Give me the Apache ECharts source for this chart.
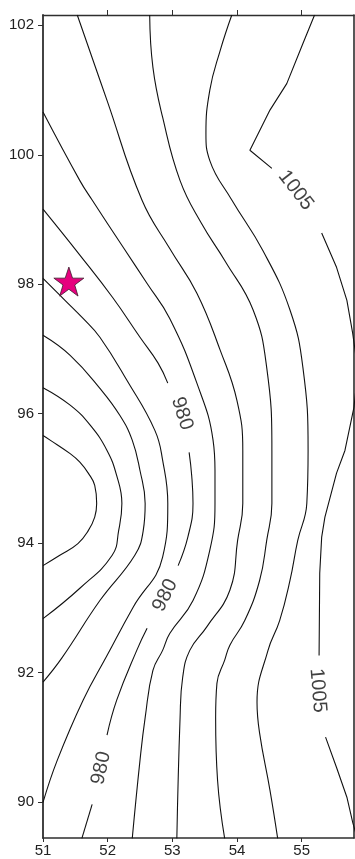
<!DOCTYPE html>
<html>
<head>
<meta charset="utf-8">
<script src="https://cdn.jsdelivr.net/npm/echarts@6/dist/echarts.min.js"></script>
<style>
  html, body { margin: 0; padding: 0; background: #fff; }
  #chart { width: 355px; height: 859px; }
</style>
</head>
<body>
<div id="chart"></div>
<script>
// Map frame extent (longitude on x, latitude on y)
const xRange = [51, 55.81];
const yRange = [89.44, 102.16];
const xTicks = [51, 52, 53, 54, 55];
const xTopTicks = [52, 53, 54, 55];
const yTicks = [90, 92, 94, 96, 98, 100, 102];

// Contour paths as [lon, lat]; a contour is a list of segments, gaps are where the level labels sit
const c960 = [[[51.00,95.66],[51.11,95.59],[51.42,95.38],[51.57,95.25],[51.70,95.08],[51.80,94.89],[51.83,94.61],[51.80,94.40],[51.70,94.19],[51.54,93.99],[51.26,93.81],[51.00,93.65]]];
const c965 = [[[51.00,96.40],[51.42,96.13],[51.73,95.82],[51.99,95.43],[52.14,95.04],[52.22,94.61],[52.17,94.19],[52.07,93.81],[51.57,93.30],[51.00,92.83]]];
const c970 = [[[51.00,97.21],[51.42,96.90],[51.88,96.39],[52.19,95.97],[52.38,95.59],[52.50,95.12],[52.58,94.61],[52.55,94.19],[52.42,93.81],[51.88,93.11],[51.29,92.22],[51.00,91.85]]];
const c975 = [[[51.00,98.09],[51.34,97.75],[51.62,97.47],[51.88,97.18],[52.30,96.51],[52.73,95.74],[52.85,95.28],[52.93,94.61],[52.85,93.78],[52.39,93.00],[51.99,92.26],[51.62,91.57],[51.22,90.64],[51.00,89.99]]];
const c980 = [
  [[51.00,99.16],[51.57,98.45],[52.08,97.79],[52.50,97.18],[52.78,96.78],[52.93,96.47]],
  [[53.26,95.40],[53.30,95.04],[53.32,94.61],[53.24,94.09],[53.09,93.65]],
  [[52.61,92.68],[52.45,92.34],[52.14,91.57],[51.99,91.03]],
  [[51.76,89.96],[51.60,89.43]]
];
const c985 = [[[51.00,100.66],[51.57,99.60],[51.76,99.30],[52.24,98.57],[52.61,98.01],[52.96,97.47],[53.38,96.47],[53.63,95.59],[53.66,95.12],[53.66,94.61],[53.58,93.89],[53.32,93.11],[52.96,92.60],[52.85,92.34],[52.70,92.03],[52.58,91.30],[52.50,90.64],[52.38,89.43]]];
const c990 = [[[51.53,102.16],[51.99,100.84],[52.53,99.30],[52.96,98.55],[53.38,97.86],[53.74,96.98],[54.00,96.20],[54.09,95.43],[54.09,94.61],[54.01,94.04],[53.89,93.27],[53.53,92.70],[53.27,92.34],[53.16,91.92],[53.12,91.30],[53.07,89.43]]];
const c995 = [[[52.65,102.16],[52.70,101.35],[52.85,100.58],[53.12,99.60],[53.45,98.94],[53.82,98.35],[54.25,97.60],[54.46,96.71],[54.54,95.43],[54.54,94.61],[54.46,94.04],[54.35,93.42],[54.12,92.80],[53.89,92.42],[53.81,92.19],[53.69,91.83],[53.67,91.30],[53.70,90.33],[53.81,89.43]]];
const c1000 = [[[53.92,102.16],[53.74,101.61],[53.58,101.00],[53.52,100.33],[53.58,99.91],[53.92,99.30],[54.40,98.52],[54.82,97.60],[55.02,96.71],[55.10,95.43],[55.08,94.61],[54.94,94.04],[54.82,93.42],[54.66,92.80],[54.48,92.34],[54.31,91.54],[54.35,91.06],[54.51,90.18],[54.63,89.43]]];
const c1005 = [
  [[55.20,102.16],[55.02,101.72],[54.77,101.10],[54.51,100.69],[54.20,100.07],[54.54,99.79]],
  [[55.31,98.79],[55.54,98.26],[55.70,97.75],[55.79,97.24],[55.87,96.67],[55.81,96.10],[55.67,95.43],[55.54,95.08],[55.36,94.40],[55.31,94.09],[55.28,93.53],[55.27,92.26]],
  [[55.37,91.00],[55.54,90.53],[55.70,90.07],[55.79,89.68],[55.87,89.40]]
];

const levels = [960, 965, 970, 975, 980, 985, 990, 995, 1000, 1005];
const contours = [c960, c965, c970, c975, c980, c985, c990, c995, c1000, c1005];

// Label anchor points for the labelled levels, one per gap in that contour
const labels980 = [[53.15,96.00],[52.89,93.19],[51.90,90.52]];
const labels1005 = [[54.91,99.45],[55.25,91.72]];

// Marked site
const site = [51.40, 98.04];

const FONT = '"Liberation Sans", Arial, sans-serif';
const INK = '#111';
const AXIS = '#2e2e2e';

// Text angle follows the contour across each gap; x and y share the same scale, so data angles hold
function gapAngles(segments) {
  const out = [];
  for (let i = 0; i < segments.length - 1; i++) {
    const a = segments[i][segments[i].length - 1];
    const b = segments[i + 1][0];
    let ang = Math.atan2(b[1] - a[1], b[0] - a[0]) * 180 / Math.PI;
    if (ang > 90) ang -= 180;
    if (ang < -90) ang += 180;
    out.push(ang);
  }
  return out;
}

const series = [];
contours.forEach((segs, ci) => {
  segs.forEach(seg => {
    series.push({
      type: 'line',
      name: String(levels[ci]),
      data: seg,
      showSymbol: false,
      smooth: ci === 9 ? false : 0.45,
      clip: true,
      silent: true,
      lineStyle: { color: INK, width: 1.1 },
      z: 3
    });
  });
});

function labelSeries(points, level, segs) {
  const angs = gapAngles(segs);
  return {
    type: 'scatter',
    symbolSize: 1,
    itemStyle: { color: 'rgba(0,0,0,0)' },
    silent: true,
    data: points.map((p, i) => ({
      value: p,
      label: { rotate: angs[i] }
    })),
    label: {
      show: true,
      position: 'inside',
      formatter: String(level),
      fontFamily: FONT,
      fontSize: 20,
      color: INK
    },
    z: 4
  };
}
series.push(labelSeries(labels980, 980, c980));
series.push(labelSeries(labels1005, 1005, c1005));

series.push({
  type: 'scatter',
  data: [site],
  symbol: 'path://M50,0 L61.8,35.1 L98.1,35.1 L68.8,56.8 L79.4,91.9 L50,70.2 L20.6,91.9 L31.2,56.8 L1.9,35.1 L38.2,35.1 Z',
  symbolSize: [30, 29],
  itemStyle: { color: '#e6007e', opacity: 1, borderColor: '#3a1a2a', borderWidth: 0.8 },
  silent: true,
  z: 5
});

const chart = echarts.init(document.getElementById('chart'), null, { renderer: 'canvas' });
chart.setOption({
  animation: false,
  backgroundColor: '#fff',
  grid: { left: 43, right: 1, top: 15, bottom: 21, containLabel: false },
  xAxis: [
    {
      type: 'value', position: 'bottom', min: xRange[0], max: xRange[1],
      axisLine: { show: true, onZero: false, lineStyle: { color: AXIS, width: 1.6 } },
      axisTick: { show: true, length: 4, customValues: xTicks, lineStyle: { color: AXIS, width: 1 } },
      axisLabel: { show: true, customValues: xTicks, margin: 5, fontFamily: FONT, fontSize: 15, color: '#222' },
      splitLine: { show: false }
    },
    {
      type: 'value', position: 'top', min: xRange[0], max: xRange[1],
      axisLine: { show: true, onZero: false, lineStyle: { color: AXIS, width: 1.4 } },
      axisTick: { show: true, length: 5, customValues: xTopTicks, lineStyle: { color: AXIS, width: 1 } },
      axisLabel: { show: false },
      splitLine: { show: false }
    }
  ],
  yAxis: [
    {
      type: 'value', position: 'left', min: yRange[0], max: yRange[1],
      axisLine: { show: true, onZero: false, lineStyle: { color: AXIS, width: 1.8 } },
      axisTick: { show: true, length: 5, customValues: yTicks, lineStyle: { color: AXIS, width: 1 } },
      axisLabel: { show: true, customValues: yTicks, margin: 9, fontFamily: FONT, fontSize: 15, color: '#222' },
      splitLine: { show: false }
    },
    {
      type: 'value', position: 'right', min: yRange[0], max: yRange[1],
      axisLine: { show: true, onZero: false, lineStyle: { color: AXIS, width: 1.6 } },
      axisTick: { show: false },
      axisLabel: { show: false },
      splitLine: { show: false }
    }
  ],
  series: series
});
</script>
</body>
</html>
